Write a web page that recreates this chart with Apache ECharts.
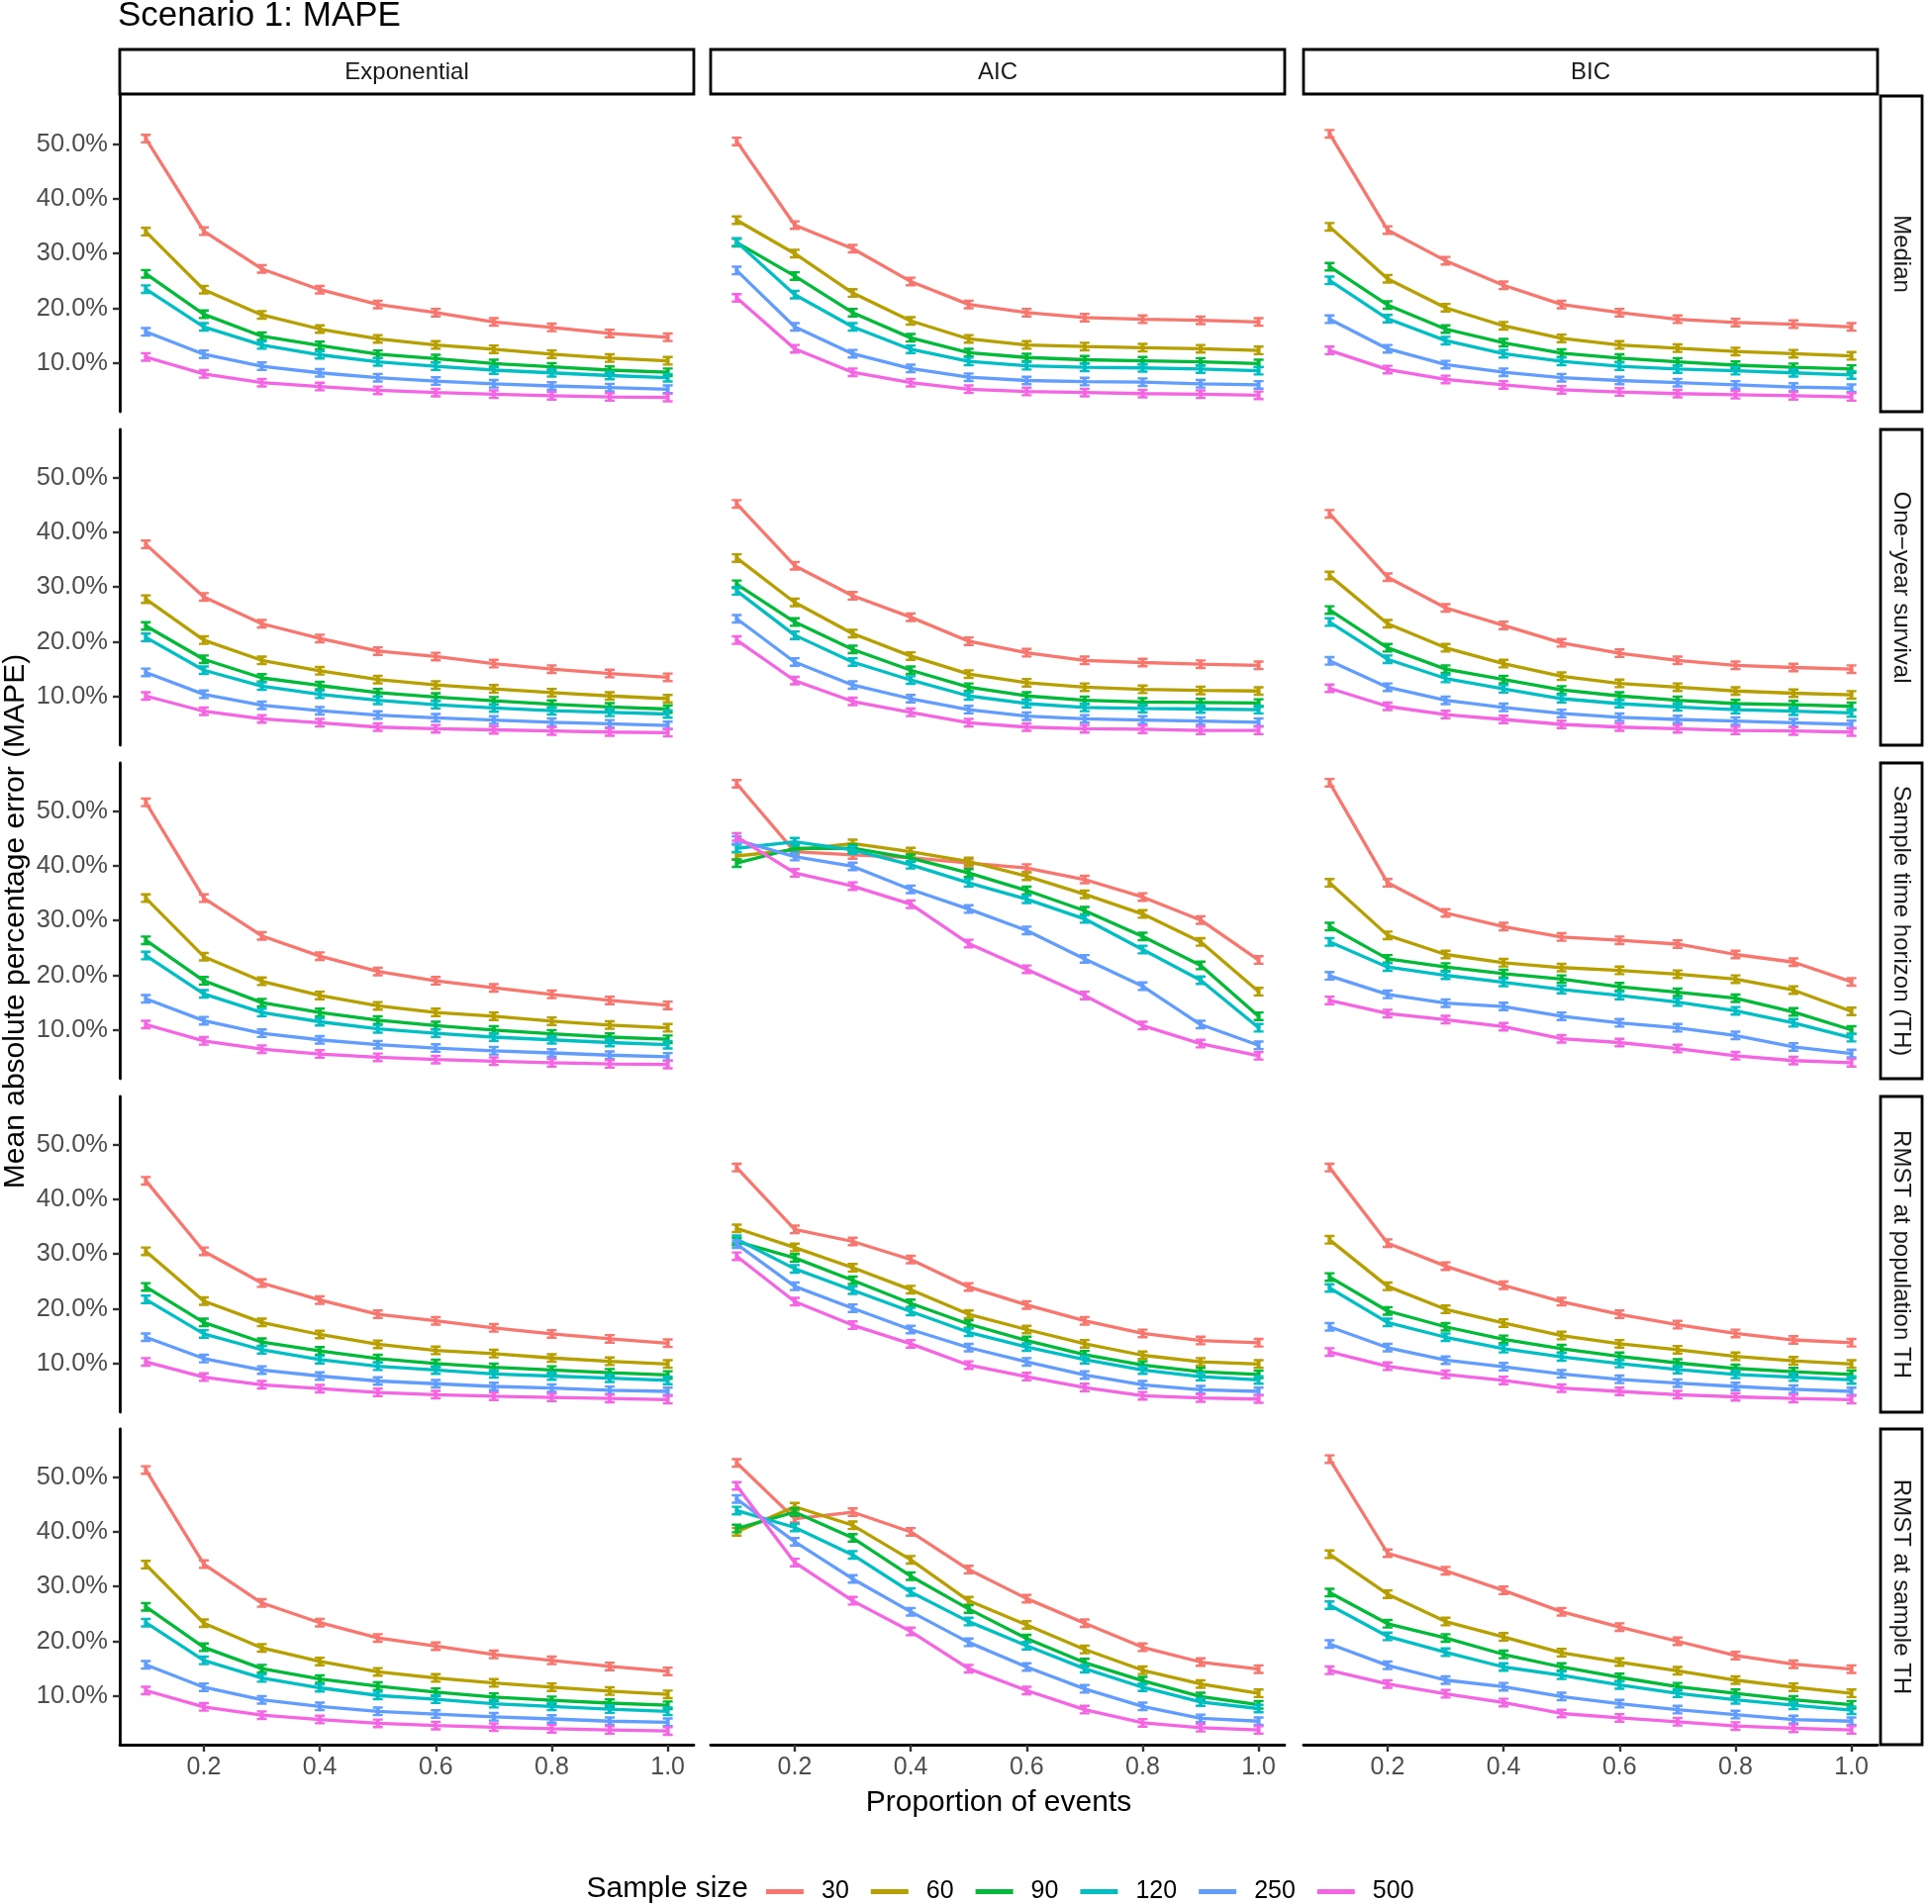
<!DOCTYPE html>
<html>
<head>
<meta charset="utf-8">
<script src="https://cdn.jsdelivr.net/npm/echarts@6/dist/echarts.min.js"></script>
<style>html,body{margin:0;padding:0;background:#fff}#chart{width:1952px;height:1924px}</style>
</head>
<body>
<div id="chart"></div>
<script>
// ---------- data ----------
const proportions = [0.1, 0.2, 0.3, 0.4, 0.5, 0.6, 0.7, 0.8, 0.9, 1.0];
const sampleSizes = ['30', '60', '90', '120', '250', '500'];
const methods = ['Exponential', 'AIC', 'BIC'];
const measures = ['Median', 'One\u2212year survival', 'Sample time horizon (TH)', 'RMST at population TH', 'RMST at sample TH'];
const yTicks = [10, 20, 30, 40, 50];
const xTicks = [0.2, 0.4, 0.6, 0.8, 1.0];

// each array: rows = sample sizes (30,60,90,120,250,500), columns = proportions 0.1..1.0 ; values in %
const median_Exponential = [
  [51.0, 34.1, 27.2, 23.4, 20.7, 19.2, 17.5, 16.5, 15.4, 14.7],
  [34.0, 23.4, 18.8, 16.2, 14.4, 13.3, 12.5, 11.6, 10.9, 10.4],
  [26.3, 18.9, 14.9, 13.2, 11.6, 10.8, 9.9, 9.3, 8.7, 8.3],
  [23.5, 16.6, 13.3, 11.5, 10.2, 9.4, 8.7, 8.2, 7.7, 7.3],
  [15.7, 11.6, 9.4, 8.2, 7.3, 6.7, 6.2, 5.8, 5.5, 5.2],
  [11.1, 8.0, 6.4, 5.7, 5.0, 4.6, 4.3, 4.0, 3.8, 3.7]
];
const median_AIC = [
  [50.5, 35.2, 30.9, 24.9, 20.7, 19.2, 18.3, 18.0, 17.8, 17.5],
  [36.1, 30.0, 22.8, 17.7, 14.4, 13.3, 13.0, 12.8, 12.6, 12.3],
  [32.0, 25.9, 19.2, 14.6, 11.9, 11.0, 10.6, 10.4, 10.2, 9.9],
  [32.1, 22.5, 16.6, 12.5, 10.3, 9.5, 9.2, 9.1, 8.9, 8.6],
  [26.9, 16.6, 11.7, 9.0, 7.4, 6.8, 6.6, 6.5, 6.2, 6.0],
  [21.9, 12.6, 8.3, 6.4, 5.2, 4.8, 4.6, 4.4, 4.3, 4.1]
];
const median_BIC = [
  [51.9, 34.3, 28.7, 24.2, 20.7, 19.2, 18.0, 17.4, 17.1, 16.6],
  [34.9, 25.4, 20.1, 16.8, 14.5, 13.3, 12.7, 12.1, 11.7, 11.3],
  [27.6, 20.6, 16.2, 13.7, 11.8, 10.9, 10.2, 9.6, 9.2, 8.9],
  [25.1, 18.1, 14.1, 11.7, 10.3, 9.4, 8.9, 8.6, 8.2, 7.8],
  [18.0, 12.6, 9.7, 8.3, 7.3, 6.8, 6.4, 6.0, 5.6, 5.4],
  [12.3, 8.8, 7.0, 6.0, 5.1, 4.7, 4.4, 4.2, 4.0, 3.8]
];
const oneYear_Exponential = [
  [37.8, 28.2, 23.3, 20.6, 18.3, 17.3, 16.0, 15.0, 14.2, 13.5],
  [27.8, 20.3, 16.6, 14.7, 13.1, 12.1, 11.4, 10.7, 10.1, 9.6],
  [22.9, 16.8, 13.4, 12.0, 10.7, 9.9, 9.2, 8.6, 8.1, 7.7],
  [20.8, 14.8, 11.9, 10.4, 9.3, 8.5, 7.9, 7.4, 7.1, 6.8],
  [14.4, 10.4, 8.4, 7.4, 6.6, 6.1, 5.7, 5.3, 5.0, 4.7],
  [10.1, 7.3, 5.9, 5.2, 4.4, 4.1, 3.9, 3.7, 3.5, 3.4]
];
const oneYear_AIC = [
  [45.2, 33.9, 28.4, 24.5, 20.1, 18.0, 16.6, 16.2, 15.9, 15.7],
  [35.3, 27.2, 21.5, 17.4, 14.1, 12.5, 11.7, 11.3, 11.1, 11.0],
  [30.5, 23.6, 18.6, 14.8, 11.7, 10.1, 9.3, 9.0, 8.9, 8.8],
  [29.3, 21.2, 16.3, 13.0, 10.1, 8.7, 8.0, 7.8, 7.7, 7.6],
  [24.2, 16.3, 12.1, 9.6, 7.6, 6.4, 5.9, 5.7, 5.5, 5.3],
  [20.3, 12.9, 9.1, 7.1, 5.2, 4.4, 4.1, 4.0, 3.8, 3.8]
];
const oneYear_BIC = [
  [43.4, 31.8, 26.2, 23.0, 19.8, 17.9, 16.6, 15.7, 15.3, 15.0],
  [32.1, 23.3, 18.9, 16.0, 13.7, 12.4, 11.7, 11.0, 10.6, 10.3],
  [25.8, 18.9, 15.0, 13.1, 11.2, 10.1, 9.3, 8.7, 8.5, 8.2],
  [23.6, 16.8, 13.3, 11.4, 9.6, 8.7, 8.1, 7.6, 7.3, 7.0],
  [16.5, 11.7, 9.3, 8.0, 6.9, 6.2, 5.8, 5.5, 5.2, 4.9],
  [11.5, 8.2, 6.7, 5.8, 4.9, 4.4, 4.1, 3.8, 3.7, 3.5]
];
const sampleTH_Exponential = [
  [51.6, 34.1, 27.2, 23.5, 20.7, 19.0, 17.7, 16.5, 15.4, 14.5],
  [34.1, 23.4, 18.9, 16.3, 14.4, 13.2, 12.5, 11.6, 10.9, 10.4],
  [26.4, 19.0, 15.0, 13.2, 11.8, 10.8, 10.0, 9.3, 8.7, 8.3],
  [23.6, 16.6, 13.2, 11.5, 10.2, 9.4, 8.7, 8.2, 7.7, 7.3],
  [15.7, 11.7, 9.4, 8.2, 7.3, 6.7, 6.2, 5.8, 5.4, 5.1],
  [11.0, 8.0, 6.5, 5.6, 5.0, 4.6, 4.3, 4.0, 3.8, 3.7]
];
const sampleTH_AIC = [
  [55.0, 42.6, 42.0, 41.5, 40.5, 39.6, 37.5, 34.3, 30.1, 22.8],
  [41.8, 42.9, 44.1, 42.6, 40.8, 38.1, 34.8, 31.2, 26.1, 17.0],
  [40.5, 43.2, 43.2, 41.4, 38.7, 35.5, 31.8, 27.1, 21.8, 12.5],
  [43.2, 44.4, 42.9, 40.2, 36.9, 33.9, 30.3, 24.7, 19.1, 10.4],
  [44.7, 41.7, 39.9, 35.7, 32.1, 28.2, 23.0, 18.0, 11.0, 7.2],
  [45.3, 38.7, 36.3, 33.0, 25.8, 21.1, 16.3, 10.8, 7.5, 5.3]
];
const sampleTH_BIC = [
  [55.2, 36.9, 31.4, 28.9, 27.0, 26.4, 25.7, 23.8, 22.4, 18.8],
  [36.9, 27.3, 23.8, 22.3, 21.4, 20.9, 20.2, 19.3, 17.3, 13.4],
  [28.9, 23.0, 21.5, 20.3, 19.3, 17.9, 16.9, 15.8, 13.3, 10.0],
  [26.1, 21.5, 20.0, 18.7, 17.4, 16.3, 15.1, 13.5, 11.3, 8.6],
  [19.9, 16.5, 14.9, 14.3, 12.5, 11.3, 10.4, 9.0, 6.9, 5.7],
  [15.4, 13.0, 11.9, 10.6, 8.4, 7.7, 6.6, 5.3, 4.4, 4.0]
];
const popTH_Exponential = [
  [43.4, 30.5, 24.7, 21.6, 19.0, 17.8, 16.5, 15.4, 14.5, 13.7],
  [30.5, 21.4, 17.5, 15.3, 13.5, 12.4, 11.8, 11.0, 10.4, 9.9],
  [24.0, 17.5, 13.9, 12.3, 10.9, 10.0, 9.3, 8.8, 8.3, 7.9],
  [21.7, 15.4, 12.5, 10.7, 9.5, 8.8, 8.1, 7.7, 7.3, 6.9],
  [14.8, 10.9, 8.8, 7.7, 6.8, 6.3, 5.8, 5.5, 5.1, 4.9],
  [10.3, 7.5, 6.1, 5.4, 4.7, 4.3, 4.0, 3.8, 3.6, 3.4]
];
const popTH_AIC = [
  [45.8, 34.5, 32.3, 29.0, 24.0, 20.7, 17.8, 15.5, 14.2, 13.8],
  [34.7, 31.2, 27.5, 23.5, 19.0, 16.2, 13.6, 11.5, 10.3, 9.9],
  [32.3, 29.3, 25.2, 21.0, 17.2, 14.2, 11.6, 9.7, 8.5, 8.0],
  [32.7, 27.3, 23.4, 19.5, 15.7, 13.0, 10.7, 8.8, 7.6, 7.0],
  [31.8, 24.1, 20.1, 16.2, 12.9, 10.3, 7.9, 6.1, 5.2, 4.9],
  [29.6, 21.3, 17.0, 13.6, 9.7, 7.6, 5.6, 4.1, 3.7, 3.5]
];
const popTH_BIC = [
  [45.8, 32.0, 27.8, 24.3, 21.3, 19.0, 17.1, 15.5, 14.3, 13.8],
  [32.6, 24.1, 19.9, 17.4, 15.1, 13.6, 12.5, 11.3, 10.5, 9.9],
  [25.8, 19.6, 16.7, 14.4, 12.7, 11.3, 10.1, 9.1, 8.5, 8.0],
  [23.8, 17.5, 14.8, 12.7, 11.2, 10.0, 8.9, 8.0, 7.5, 7.0],
  [16.7, 12.9, 10.6, 9.4, 8.1, 7.1, 6.4, 5.8, 5.3, 4.9],
  [12.1, 9.5, 8.0, 6.9, 5.5, 4.9, 4.3, 3.9, 3.6, 3.4]
];
const rmstSample_Exponential = [
  [51.3, 34.1, 27.0, 23.4, 20.6, 19.1, 17.6, 16.5, 15.4, 14.5],
  [34.0, 23.3, 18.8, 16.3, 14.4, 13.3, 12.4, 11.6, 10.9, 10.3],
  [26.3, 18.9, 15.0, 13.1, 11.8, 10.7, 9.8, 9.2, 8.7, 8.3],
  [23.4, 16.5, 13.3, 11.5, 10.1, 9.4, 8.6, 8.1, 7.6, 7.2],
  [15.7, 11.6, 9.3, 8.1, 7.2, 6.7, 6.2, 5.8, 5.4, 5.2],
  [11.0, 8.0, 6.5, 5.7, 5.0, 4.6, 4.3, 4.0, 3.8, 3.6]
];
const rmstSample_AIC = [
  [52.6, 42.4, 43.6, 40.0, 33.1, 27.8, 23.3, 18.9, 16.2, 14.9],
  [40.0, 44.6, 41.2, 34.9, 27.4, 23.0, 18.5, 14.7, 12.2, 10.5],
  [40.6, 43.6, 38.9, 31.9, 25.9, 20.5, 16.1, 12.8, 9.9, 8.4],
  [43.9, 40.8, 35.8, 29.0, 23.6, 19.2, 15.0, 11.6, 8.9, 7.7],
  [46.0, 38.2, 31.4, 25.4, 19.8, 15.3, 11.3, 8.1, 5.9, 5.4],
  [48.4, 34.4, 27.4, 21.8, 15.0, 11.0, 7.5, 5.1, 4.2, 3.8]
];
const rmstSample_BIC = [
  [53.3, 36.1, 32.9, 29.3, 25.4, 22.6, 20.0, 17.4, 15.8, 14.9],
  [35.9, 28.6, 23.6, 20.8, 17.9, 16.2, 14.6, 12.9, 11.6, 10.5],
  [28.9, 23.2, 20.6, 17.6, 15.3, 13.4, 11.7, 10.5, 9.3, 8.4],
  [26.6, 20.9, 18.0, 15.3, 13.8, 12.0, 10.5, 9.3, 8.3, 7.4],
  [19.5, 15.6, 12.9, 11.7, 9.9, 8.6, 7.5, 6.6, 5.7, 5.4],
  [14.7, 12.2, 10.4, 8.8, 6.8, 6.0, 5.3, 4.5, 4.1, 3.8]
];

const panelData = [
  [median_Exponential, median_AIC, median_BIC],
  [oneYear_Exponential, oneYear_AIC, oneYear_BIC],
  [sampleTH_Exponential, sampleTH_AIC, sampleTH_BIC],
  [popTH_Exponential, popTH_AIC, popTH_BIC],
  [rmstSample_Exponential, rmstSample_AIC, rmstSample_BIC]
];

// ---------- styling / layout ----------
const colors = ['#F8766D', '#B79F00', '#00BA38', '#00BFC4', '#619CFF', '#F564E3'];
const FONT = '"Liberation Sans", Arial, Helvetica, sans-serif';
const colLeft = [121, 718, 1317];
const panelW = 580;
const rowTop = [97, 434, 771, 1108, 1444];
const panelH = 319;
const errBarSymbol = 'path://M0,0H10V2.4H7V7.6H10V10H0V7.6H3V2.4H0Z';

const grids = [], xAxes = [], yAxes = [], series = [];
let g = 0;
for (let r = 0; r < measures.length; r++) {
  for (let c = 0; c < methods.length; c++) {
    grids.push({left: colLeft[c], top: rowTop[r], width: panelW, height: panelH, containLabel: false});
    const bottom = r === measures.length - 1;
    xAxes.push({
      gridIndex: g, type: 'value', min: 0.055, max: 1.045,
      axisLine: {show: bottom, onZero: false, lineStyle: {color: '#000', width: 2.8}},
      axisTick: {show: bottom, length: 7, customValues: xTicks, lineStyle: {color: '#333', width: 2.4}},
      axisLabel: {show: bottom, customValues: xTicks, formatter: v => v.toFixed(1),
        color: '#4D4D4D', fontSize: 25, fontFamily: FONT, margin: 11},
      splitLine: {show: false}
    });
    const first = c === 0;
    yAxes.push({
      gridIndex: g, type: 'value', min: 1.1, max: 58.8,
      axisLine: {show: first, onZero: false, lineStyle: {color: '#000', width: 2.8}},
      axisTick: {show: first, length: 7, customValues: yTicks, lineStyle: {color: '#333', width: 2.4}},
      axisLabel: {show: first, customValues: yTicks, formatter: v => v.toFixed(1) + '%',
        color: '#4D4D4D', fontSize: 25.5, fontFamily: FONT, margin: 12},
      splitLine: {show: false}
    });
    const vals = panelData[r][c];
    for (let k = 0; k < sampleSizes.length; k++) {
      series.push({
        type: 'line', name: sampleSizes[k], xAxisIndex: g, yAxisIndex: g,
        data: proportions.map((x, i) => [x, vals[k][i]]),
        symbol: errBarSymbol, symbolSize: [10, 10], showAllSymbol: true,
        itemStyle: {color: colors[k], borderWidth: 0},
        lineStyle: {color: colors[k], width: 3.3},
        silent: true, animation: false, z: 2 + k
      });
    }
    g++;
  }
}

const graphics = [];
// title
graphics.push({type: 'text', x: 119, y: 16, style: {text: 'Scenario 1: MAPE', font: '35px ' + FONT, fill: '#000', align: 'left', verticalAlign: 'middle'}});
// column strips
for (let c = 0; c < methods.length; c++) {
  graphics.push({type: 'rect', shape: {x: colLeft[c], y: 50, width: panelW, height: 45},
    style: {fill: '#fff', stroke: '#000', lineWidth: 2.8}});
  graphics.push({type: 'text', x: colLeft[c] + panelW / 2, y: 73,
    style: {text: methods[c], font: '24px ' + FONT, fill: '#1A1A1A', align: 'center', verticalAlign: 'middle'}});
}
// row strips
for (let r = 0; r < measures.length; r++) {
  graphics.push({type: 'rect', shape: {x: 1900, y: rowTop[r], width: 42, height: panelH},
    style: {fill: '#fff', stroke: '#000', lineWidth: 2.8}});
  graphics.push({type: 'text', x: 1921, y: rowTop[r] + panelH / 2, rotation: -Math.PI / 2,
    style: {text: measures[r], font: '24px ' + FONT, fill: '#1A1A1A', align: 'center', verticalAlign: 'middle'}});
}
// axis titles
graphics.push({type: 'text', x: 1009, y: 1822,
  style: {text: 'Proportion of events', font: '30px ' + FONT, fill: '#000', align: 'center', verticalAlign: 'middle'}});
graphics.push({type: 'text', x: 16, y: 931, rotation: Math.PI / 2,
  style: {text: 'Mean absolute percentage error (MAPE)', font: '30px ' + FONT, fill: '#000', align: 'center', verticalAlign: 'middle'}});
// legend title
graphics.push({type: 'text', x: 756, y: 1909,
  style: {text: 'Sample size', font: '30px ' + FONT, fill: '#000', align: 'right', verticalAlign: 'middle'}});

const chart = echarts.init(document.getElementById('chart'), null, {renderer: 'canvas'});
chart.setOption({
  animation: false,
  backgroundColor: '#fff',
  grid: grids,
  xAxis: xAxes,
  yAxis: yAxes,
  series: series,
  legend: {
    data: sampleSizes, left: 774, top: 1899, padding: 0, orient: 'horizontal',
    icon: 'rect', itemWidth: 38, itemHeight: 5, itemGap: 22, selectedMode: false,
    textStyle: {fontSize: 25, color: '#000', fontFamily: FONT, padding: [0, 0, 0, 13]}
  },
  graphic: graphics
});
</script>
</body>
</html>
